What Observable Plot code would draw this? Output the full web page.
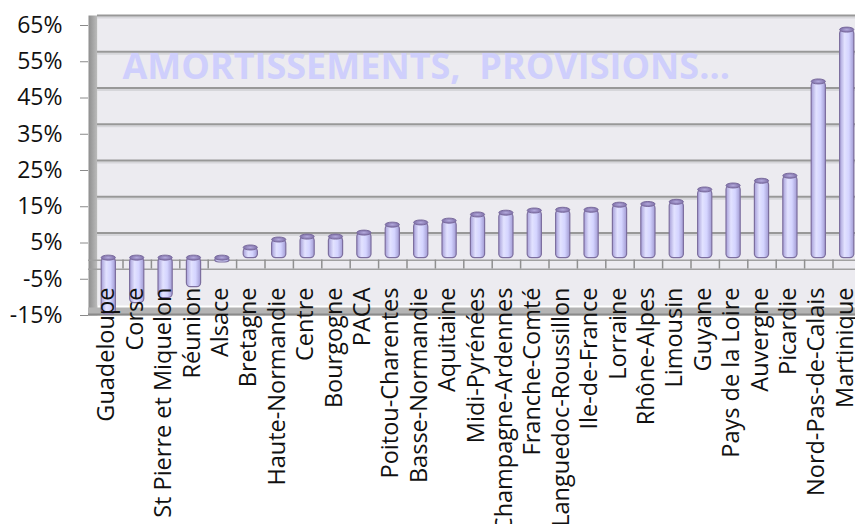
<!DOCTYPE html>
<html><head><meta charset="utf-8">
<script src="https://cdn.jsdelivr.net/npm/d3@7"></script>
<script src="https://cdn.jsdelivr.net/npm/@observablehq/plot@0.6"></script>
<style>html,body{margin:0;padding:0;background:#fff}svg{display:block}</style>
</head><body><div id="chart"></div>
<script>
const categories = ["Guadeloupe","Corse","St Pierre et Miquelon","Réunion","Alsace","Bretagne","Haute-Normandie","Centre","Bourgogne","PACA","Poitou-Charentes","Basse-Normandie","Aquitaine","Midi-Pyrénées","Champagne-Ardennes","Franche-Comté","Languedoc-Roussillon","Ile-de-France","Lorraine","Rhône-Alpes","Limousin","Guyane","Pays de la Loire","Auvergne","Picardie","Nord-Pas-de-Calais","Martinique"];
const values = [-15.5,-12.4,-11,-8,-1.2,2.8,5.0,5.8,5.8,6.9,9.1,9.7,10.2,11.9,12.4,13.0,13.2,13.2,14.6,14.8,15.4,18.8,19.9,21.2,22.6,48.6,62.9];
const yTicks = [-15,-5,5,15,25,35,45,55,65];
const title = "AMORTISSEMENTS,  PROVISIONS...";

const data = categories.map((c, i) => ({region: c, value: values[i]}));
const step = 781 / 27.5;

const defs = () => {
  const g = d3.create("svg:defs");
  const cyl = g.append("linearGradient").attr("id", "cyl").attr("x1", 0).attr("x2", 1).attr("y1", 0).attr("y2", 0);
  cyl.append("stop").attr("offset", 0).attr("stop-color", "#a69fd8");
  cyl.append("stop").attr("offset", 0.35).attr("stop-color", "#e2e2ff");
  cyl.append("stop").attr("offset", 0.65).attr("stop-color", "#d4d4ff");
  cyl.append("stop").attr("offset", 1).attr("stop-color", "#a29bd3");
  const wall = g.append("linearGradient").attr("id", "wall").attr("x1", 0).attr("x2", 1).attr("y1", 0).attr("y2", 0);
  wall.append("stop").attr("offset", 0).attr("stop-color", "#8e8e8e");
  wall.append("stop").attr("offset", 1).attr("stop-color", "#bdbdbd");
  const cap = g.append("radialGradient").attr("id", "cap");
  cap.append("stop").attr("offset", 0).attr("stop-color", "#b3a9dc");
  cap.append("stop").attr("offset", 1).attr("stop-color", "#7f70a8");
  return g.node();
};

const chart = Plot.plot({
  width: 855,
  height: 524,
  marginLeft: 88,
  marginRight: 0,
  marginTop: 25,
  marginBottom: 209,
  style: {fontFamily: "Open Sans", background: "#fff"},
  x: {domain: categories, range: [87, 868], padding: 0.5, round: false, label: null},
  y: {domain: [-15, 65], label: null},
  marks: [
    defs,
    Plot.frame({fill: "url(#wall)", insetRight: 758, insetTop: -10, stroke: null}),
    Plot.frame({fill: "#ecebf0", dx: 9, dy: -10, stroke: null}),
    Plot.ruleY(yTicks.filter(t => t > 0), {stroke: "#d6d6da", strokeWidth: 2, dx: 9, dy: -8}),
    Plot.ruleY(yTicks.filter(t => t > 0), {stroke: "#989898", strokeWidth: 2, dx: 9, dy: -10}),
    Plot.ruleY([0], {stroke: "#a0a0a0", strokeWidth: 1.5, dy: -1}),
    Plot.ruleY([0], {stroke: "#a0a0a0", strokeWidth: 1.5, dy: 8}),
    Plot.ruleX(categories, {x: d => d, y1: 0.3, y2: -2.2, dx: step / 2, stroke: "#8f8f8f", strokeWidth: 1.5}),
    Plot.ruleY([-15], {stroke: "#b4b4b4", strokeWidth: 8, dy: -4}),
    Plot.ruleY([-15], {stroke: "#8a8a8a", strokeWidth: 2, dy: -1}),
    Plot.barY(data, {x: "region", y: "value", fill: "url(#cyl)", stroke: "#7d6f9f", strokeWidth: 1.2, rx: 4, dy: -3}),
    Plot.barY(data, {x: "region", y1: d => Math.max(d.value, 0), y2: d => Math.max(d.value, 0), insetTop: -2.5, insetBottom: -2.5, rx: 7, ry: 2.5, fill: "url(#cap)", stroke: "#7a6b9e", strokeWidth: 1, dy: -3}),
    Plot.text([title], {frameAnchor: "top-left", dx: 34, dy: 28, lineAnchor: "top", textAnchor: "start", fontSize: 36, fontWeight: "bold", fill: "#cfcffc"}),
    Plot.axisY({ticks: yTicks, tickSize: 8, tickFormat: () => "", stroke: "#8a8a8a", label: null}),
    Plot.axisY({ticks: yTicks, tickSize: 0, tickPadding: 26, tickFormat: d => d + "%", fontSize: 23, fill: "#111", label: null}),
    Plot.axisX({tickRotate: -90, tickSize: 0, tickPadding: 0, dy: -28, dx: -2, fontSize: 23.5, fill: "#111", label: null})
  ]
});
document.getElementById("chart").appendChild(chart);
</script>
</body></html>
